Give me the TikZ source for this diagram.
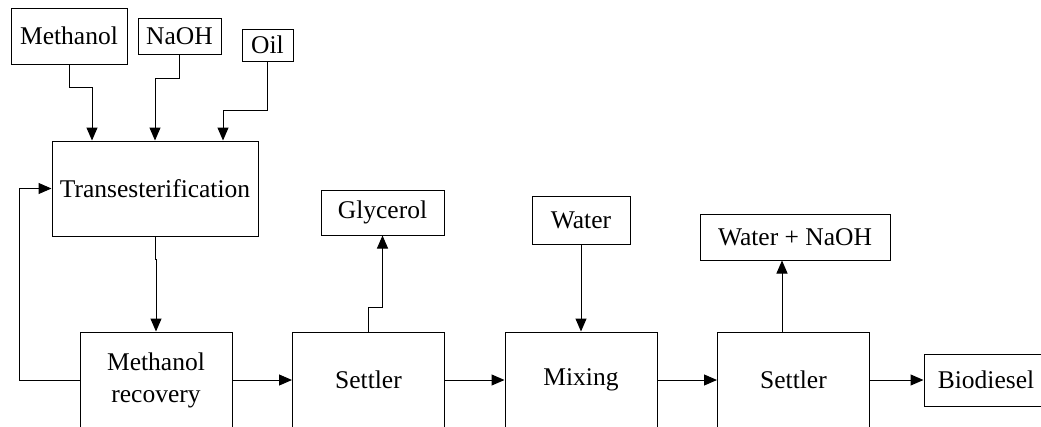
\documentclass[tikz,border=0pt]{standalone}
\usepackage{fontspec}
\setmainfont{Liberation Serif}
\usetikzlibrary{arrows.meta}
\newcommand\boxfont{\fontsize{25.5}{32}\selectfont}

\begin{document}
\begin{tikzpicture}[x=1pt,y=-1pt,
     blk/.style={draw,line width=1pt,inner sep=0pt,align=center,
       font=\boxfont},
     unit/.style={blk,minimum width=152pt,minimum height=96pt},
     arr/.style={line width=1pt,-{Triangle[length=13pt,width=11pt]}}]
    \clip (0,0) rectangle (1041,426);
    % feed streams
    \node[blk,minimum width=116pt,minimum height=56pt] (meth) at (69,36) {Methanol};
    \node[blk,minimum width=83pt,minimum height=36pt] (naoh) at (179.5,36) {NaOH};
    \node[blk,minimum width=51pt,minimum height=32pt] (oil) at (267.5,45) {Oil};
    \node[blk,minimum width=206pt,minimum height=95pt] (trans) at (155,188.5) {Transesterification};
    % main line
    \node[unit] (mrec) at (156,380) {Methanol\\recovery};
    \node[unit] (set1) at (368.5,380) {Settler};
    \node[unit] (mix) at (581,380) {Mixing};
    \node[unit] (set2) at (793.5,380) {Settler};
    \node[blk,minimum width=124pt,minimum height=52pt] (bio) at (986,380) {Biodiesel};
    % side streams
    \node[blk,minimum width=123pt,minimum height=45pt] (gly) at (382.5,212.5) {Glycerol};
    \node[blk,minimum width=98pt,minimum height=48pt] (water) at (581,220) {Water};
    \node[blk,minimum width=190pt,minimum height=46pt] (wnaoh) at (795,237) {Water + NaOH};
    % connectors
    \draw[arr] (meth.south) -- ++(0,23) -| ([xshift=-63pt]trans.north);
    \draw[arr] (naoh.south) -- ++(0,24) -| (trans.north);
    \draw[arr] (oil.south) -- ++(0,49) -| ([xshift=68pt]trans.north);
    \draw[arr] (trans.south) -- ++(0,23) -| (mrec.north);
    \draw[arr] (mrec.west) -- ++(-60,0) |- (trans.west);
    \draw[arr] (mrec) -- (set1);
    \draw[arr] (set1) -- (mix);
    \draw[arr] (mix) -- (set2);
    \draw[arr] (set2) -- (bio);
    \draw[arr] (set1.north) -- ++(0,-24) -| (gly.south);
    \draw[arr] (water) -- (mix);
    \draw[arr] ([xshift=-11.5pt]set2.north) -- ([xshift=-13pt]wnaoh.south);
  \end{tikzpicture}
\end{document}
